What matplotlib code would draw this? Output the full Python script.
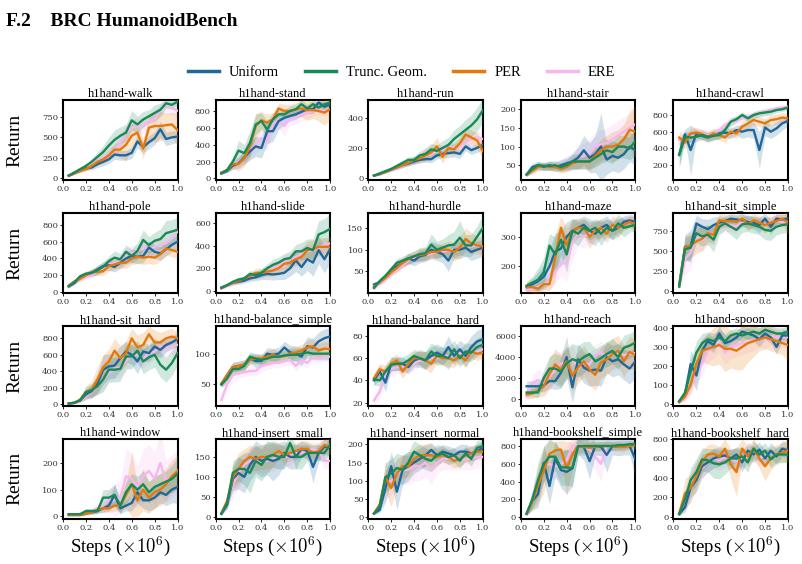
import numpy as np
import matplotlib.pyplot as plt

nan = float('nan')

# training steps (x 1e6)
steps = [0.05, 0.10, 0.15, 0.20, 0.25, 0.30, 0.35, 0.40, 0.45, 0.50,
         0.55, 0.60, 0.65, 0.70, 0.75, 0.80, 0.85, 0.90, 0.95, 1.00]

methods = ['Uniform', 'Trunc. Geom.', 'PER', 'ERE']
colors = ['#1f6899', '#178a55', '#e6780b', '#f7b6f0']
zorders = [3, 5, 4, 2]

# each *_mean / *_std holds rows in the order of `methods`
walk_mean = [
    [30, 60, 90, 120, 130, 170, 200, 230, 290, 280, 280, 310, 450, 380, 440, 490, 600, 480, 500, 510],
    [30, 70, 110, 150, 200, 260, 320, 400, 470, 520, 560, 710, 660, 720, 760, 800, 840, 920, 900, 940],
    [30, 60, 90, 110, 150, 200, 230, 280, 350, 350, 410, 520, 560, 360, 620, 640, 640, 650, 660, 590],
    [30, 60, 100, 130, 160, 210, 250, 300, 340, 430, 560, 620, 640, 640, 700, 720, 850, 880, 860, 830]]
walk_std = [
    [10, 15, 20, 25, 30, 40, 50, 50, 60, 60, 60, 70, 80, 70, 80, 80, 100, 80, 80, 70],
    [10, 15, 20, 30, 40, 60, 80, 100, 120, 110, 100, 120, 100, 100, 80, 100, 80, 60, 50, 40],
    [10, 15, 20, 25, 30, 40, 50, 60, 70, 100, 200, 150, 120, 120, 150, 200, 180, 150, 150, 200],
    [10, 15, 20, 30, 40, 50, 60, 70, 80, 100, 100, 100, 100, 100, 100, 100, 80, 80, 80, 80]]

stand_mean = [
    [60, 90, 150, 180, 250, 320, 380, 360, 560, 560, 680, 720, 740, 760, 790, 820, 820, 900, 850, 880],
    [60, 100, 200, 330, 300, 420, 640, 680, 580, 700, 760, 760, 800, 820, 880, 830, 880, 840, 880, 900],
    [70, 100, 170, 170, 240, 380, 620, 690, 660, 700, 830, 800, 800, 820, 830, 810, 810, 800, 780, 820],
    [60, 90, 150, 200, 250, 330, 400, 480, 440, 640, 700, 620, 720, 720, 760, 780, 800, 820, 800, 820]]
stand_std = [
    [10, 20, 40, 60, 80, 100, 120, 120, 150, 120, 100, 80, 60, 60, 50, 50, 50, 40, 50, 40],
    [10, 30, 60, 120, 100, 150, 120, 100, 100, 80, 80, 60, 60, 60, 50, 50, 50, 60, 50, 40],
    [15, 30, 60, 80, 100, 120, 150, 100, 100, 80, 60, 80, 80, 80, 100, 120, 100, 120, 150, 120],
    [10, 20, 40, 60, 80, 100, 100, 100, 120, 100, 100, 120, 80, 80, 80, 80, 60, 60, 60, 60]]

run_mean = [
    [15, 25, 40, 55, 70, 85, 95, 110, 120, 125, 125, 150, 160, 165, 170, 160, 210, 185, 200, 220],
    [15, 30, 45, 60, 80, 100, 120, 120, 150, 160, 190, 180, 200, 220, 260, 290, 320, 350, 390, 450],
    [15, 25, 40, 55, 70, 85, 100, 120, 130, 150, 170, 210, 140, 200, 190, 230, 290, 270, 250, 180],
    [15, 25, 40, 50, 65, 80, 100, 110, 130, 150, 160, 180, 190, 210, 200, 210, 240, 260, 270, 260]]
run_std = [
    [3, 5, 8, 10, 12, 15, 15, 20, 20, 20, 25, 25, 25, 30, 30, 30, 30, 30, 30, 30],
    [3, 5, 8, 10, 15, 20, 20, 25, 30, 40, 40, 40, 50, 50, 60, 60, 70, 70, 80, 80],
    [3, 5, 8, 10, 12, 15, 20, 25, 30, 40, 50, 60, 40, 40, 40, 40, 50, 50, 50, 60],
    [3, 5, 8, 10, 12, 15, 20, 20, 25, 30, 30, 30, 30, 30, 30, 30, 40, 40, 40, 40]]

stair_mean = [
    [25, 45, 50, 45, 50, 45, 50, 55, 60, 70, 90, 70, 80, 100, 65, 75, 70, 80, 100, 90],
    [25, 40, 50, 48, 48, 50, 45, 50, 60, 60, 60, 60, 70, 80, 90, 85, 100, 100, 95, 115],
    [25, 35, 45, 48, 45, 45, 40, 45, 55, 60, 60, 60, 75, 90, 100, 100, 105, 120, 145, 140],
    [25, 35, 45, 45, 48, 50, 50, 55, 60, 70, 75, 80, 100, 105, 110, 120, 130, 140, 150, 160]]
stair_std = [
    [5, 10, 10, 10, 12, 12, 15, 15, 20, 30, 40, 40, 50, 90, 40, 40, 40, 40, 40, 40],
    [5, 10, 10, 10, 12, 12, 12, 15, 20, 20, 20, 20, 25, 25, 30, 30, 30, 30, 30, 40],
    [5, 8, 10, 10, 10, 10, 12, 12, 15, 20, 20, 25, 25, 30, 30, 40, 40, 40, 50, 70],
    [5, 8, 10, 10, 12, 12, 15, 20, 25, 30, 35, 40, 40, 40, 40, 40, 40, 40, 40, 40]]

crawl_mean = [
    [330, 570, 380, 580, 550, 530, 560, 580, 590, 580, 620, 600, 620, 620, 380, 650, 600, 640, 700, 730],
    [320, 540, 530, 540, 560, 540, 550, 560, 620, 720, 750, 800, 760, 800, 820, 830, 840, 860, 870, 890],
    [530, 470, 580, 590, 570, 540, 580, 560, 530, 600, 580, 660, 700, 740, 720, 700, 740, 750, 770, 760],
    [500, 520, 540, 560, 580, 560, 580, 620, 680, 720, 740, 760, 780, 800, 820, 840, 860, 880, 890, 900]]
crawl_std = [
    [150, 60, 300, 50, 50, 60, 60, 60, 60, 60, 60, 80, 80, 100, 220, 100, 80, 80, 80, 60],
    [150, 60, 60, 60, 50, 50, 50, 50, 50, 50, 40, 40, 40, 40, 40, 40, 40, 30, 30, 30],
    [80, 80, 60, 60, 60, 60, 60, 60, 60, 60, 60, 60, 60, 60, 60, 60, 60, 60, 60, 60],
    [60, 60, 60, 60, 50, 50, 50, 50, 50, 50, 50, 40, 40, 40, 40, 40, 40, 30, 30, 30]]

pole_mean = [
    [70, 110, 180, 210, 230, 270, 310, 320, 300, 350, 400, 430, 420, 430, 530, 480, 460, 510, 560, 600],
    [70, 120, 190, 220, 230, 260, 300, 370, 410, 390, 480, 430, 490, 620, 560, 610, 630, 700, 720, 740],
    [80, 130, 160, 200, 240, 240, 250, 310, 330, 350, 350, 400, 420, 410, 420, 410, 450, 520, 500, 480],
    [60, 110, 160, 180, 200, 250, 280, 330, 350, 360, 440, 470, 480, 550, 500, 540, 560, 580, 640, 720]]
pole_std = [
    [15, 20, 30, 30, 40, 50, 50, 60, 60, 70, 70, 80, 80, 80, 80, 80, 80, 80, 80, 80],
    [15, 20, 30, 30, 40, 50, 60, 60, 80, 70, 80, 80, 100, 120, 100, 100, 120, 150, 140, 150],
    [15, 20, 30, 30, 40, 40, 50, 60, 60, 60, 70, 70, 80, 80, 80, 80, 80, 80, 80, 80],
    [15, 20, 30, 30, 40, 50, 50, 60, 60, 70, 80, 80, 80, 80, 80, 80, 80, 80, 80, 80]]

slide_mean = [
    [30, 50, 70, 80, 90, 110, 120, 140, 150, 145, 150, 160, 200, 270, 210, 280, 250, 360, 280, 370],
    [25, 50, 80, 100, 110, 150, 140, 160, 200, 230, 250, 280, 290, 350, 350, 380, 360, 500, 520, 550],
    [25, 50, 70, 90, 110, 130, 160, 160, 170, 180, 200, 240, 250, 280, 300, 360, 370, 390, 390, 390],
    [20, 40, 60, 75, 90, 110, 130, 150, 170, 200, 220, 260, 280, 300, 330, 350, 360, 380, 410, 420]]
slide_std = [
    [8, 10, 15, 20, 20, 25, 30, 40, 50, 50, 50, 60, 70, 100, 80, 100, 120, 120, 120, 120],
    [8, 10, 15, 20, 20, 30, 30, 40, 40, 50, 50, 50, 60, 60, 80, 80, 100, 120, 120, 130],
    [8, 10, 15, 20, 25, 30, 40, 40, 40, 50, 50, 60, 60, 60, 70, 80, 80, 80, 80, 80],
    [8, 10, 15, 20, 20, 25, 30, 30, 40, 50, 50, 60, 60, 60, 60, 60, 60, 60, 60, 60]]

hurdle_mean = [
    [20, 25, 38, 50, 62, 70, 80, 75, 85, 88, 100, 95, 90, 75, 100, 100, 105, 95, 100, 105],
    [12, 28, 40, 55, 70, 75, 80, 85, 90, 92, 112, 100, 105, 110, 112, 128, 110, 110, 130, 150],
    [15, 25, 35, 48, 58, 70, 78, 85, 88, 90, 95, 95, 100, 100, 95, 105, 125, 115, 110, 108],
    [12, 22, 32, 45, 55, 65, 75, 80, 85, 88, 90, 95, 95, 100, 100, 100, 105, 108, 110, 104]]
hurdle_std = [
    [5, 5, 6, 8, 10, 10, 12, 12, 15, 15, 20, 20, 20, 25, 20, 20, 20, 20, 20, 20],
    [5, 5, 6, 8, 10, 10, 12, 12, 15, 15, 25, 20, 20, 25, 30, 40, 25, 25, 25, 30],
    [5, 5, 6, 8, 10, 10, 12, 12, 15, 15, 15, 15, 15, 20, 20, 25, 25, 25, 20, 20],
    [5, 5, 6, 8, 8, 10, 10, 10, 12, 12, 12, 12, 12, 12, 12, 12, 12, 12, 12, 12]]

maze_mean = [
    [130, 140, 150, 165, 200, 250, 260, 300, 320, 330, 340, 320, 310, 330, 340, 320, 330, 350, 355, 350],
    [135, 145, 155, 180, 270, 240, 290, 240, 320, 310, 330, 320, 330, 310, 330, 320, 345, 330, 335, 340],
    [130, 130, 125, 140, 140, 230, 330, 270, 320, 330, 330, 300, 320, 330, 310, 340, 330, 340, 350, 340],
    [120, 125, 130, 140, 150, 180, 210, 210, 280, 310, 300, 310, 330, 320, 330, 330, 340, 345, 350, 350]]
maze_std = [
    [15, 20, 30, 40, 60, 60, 60, 50, 40, 30, 30, 40, 40, 30, 30, 30, 30, 20, 20, 20],
    [15, 20, 40, 50, 40, 60, 50, 60, 40, 40, 30, 30, 30, 40, 30, 30, 30, 30, 20, 20],
    [15, 20, 20, 20, 20, 80, 40, 60, 40, 30, 30, 40, 30, 30, 30, 30, 30, 20, 20, 20],
    [15, 15, 20, 20, 30, 40, 40, 60, 60, 40, 40, 30, 30, 30, 30, 30, 20, 20, 20, 20]]

sit_simple_mean = [
    [80, 550, 560, 840, 800, 770, 820, 850, 870, 900, 890, 880, 860, 850, 820, 900, 800, 900, 890, 900],
    [60, 520, 540, 720, 680, 700, 640, 800, 840, 800, 760, 830, 840, 820, 800, 760, 750, 800, 820, 830],
    [70, 540, 570, 620, 650, 720, 700, 880, 870, 870, 860, 900, 830, 880, 850, 820, 850, 870, 900, 850],
    [60, 400, 480, 680, 640, 690, 720, 800, 820, 820, 800, 860, 870, 840, 850, 830, 860, 870, 860, 860]]
sit_simple_std = [
    [40, 150, 200, 100, 100, 120, 100, 80, 60, 60, 60, 80, 80, 80, 100, 60, 100, 60, 60, 60],
    [40, 150, 150, 120, 120, 120, 150, 100, 80, 100, 120, 100, 100, 100, 100, 120, 120, 100, 100, 100],
    [40, 150, 150, 150, 150, 100, 120, 80, 80, 80, 80, 60, 80, 80, 80, 100, 80, 80, 60, 150],
    [40, 200, 200, 150, 150, 120, 100, 80, 80, 80, 80, 60, 60, 60, 60, 60, 60, 60, 60, 60]]

sit_hard_mean = [
    [10, 20, 50, 120, 160, 250, 420, 460, 470, 560, 640, 600, 520, 640, 620, 700, 660, 720, 750, 790],
    [10, 20, 50, 150, 170, 220, 300, 420, 420, 430, 580, 580, 650, 520, 570, 600, 480, 420, 500, 620],
    [10, 20, 60, 150, 180, 300, 450, 520, 650, 560, 620, 800, 690, 720, 850, 750, 750, 800, 820, 800],
    [10, 15, 40, 100, 150, 220, 300, 380, 430, 450, 520, 600, 600, 550, 620, 640, 700, 680, 700, 720]]
sit_hard_std = [
    [5, 10, 20, 60, 80, 120, 180, 150, 150, 150, 120, 120, 150, 120, 100, 100, 100, 80, 80, 80],
    [5, 10, 20, 60, 80, 100, 150, 150, 150, 150, 150, 150, 120, 150, 150, 150, 150, 150, 150, 150],
    [5, 10, 30, 80, 100, 150, 150, 150, 150, 150, 150, 120, 150, 150, 100, 150, 120, 100, 100, 80],
    [5, 10, 20, 50, 80, 100, 120, 120, 120, 120, 120, 120, 120, 120, 120, 100, 100, 100, 100, 100]]

balance_simple_mean = [
    [50, 65, 78, 80, 82, 92, 88, 88, 100, 98, 100, 110, 102, 100, 95, 112, 110, 120, 125, 128],
    [50, 60, 75, 75, 80, 95, 92, 90, 92, 95, 95, 97, 98, 98, 100, 102, 100, 100, 100, 100],
    [52, 65, 78, 80, 82, 90, 92, 92, 95, 98, 95, 96, 100, 102, 105, 110, 112, 105, 108, 108],
    [25, 50, 65, 68, 70, 72, 72, 80, 82, 85, 85, 88, 90, 80, 90, 85, 95, 92, 95, 95]]
balance_simple_std = [
    [5, 8, 8, 8, 8, 8, 10, 10, 10, 10, 10, 10, 12, 12, 15, 15, 15, 15, 15, 15],
    [5, 8, 8, 8, 8, 8, 8, 8, 8, 8, 8, 8, 10, 10, 10, 10, 10, 10, 10, 10],
    [5, 8, 8, 8, 8, 8, 8, 8, 10, 10, 10, 10, 10, 10, 10, 12, 12, 12, 12, 12],
    [10, 10, 10, 8, 8, 8, 8, 8, 8, 8, 8, 8, 8, 8, 8, 8, 8, 8, 8, 8]]

balance_hard_mean = [
    [40, 48, 38, 55, 55, 55, 52, 58, 60, 58, 62, 65, 62, 70, 62, 68, 62, 70, 75, 77],
    [41, 40, 48, 54, 55, 55, 58, 62, 60, 58, 66, 62, 62, 60, 68, 60, 66, 65, 70, 72],
    [42, 50, 48, 55, 58, 48, 55, 60, 60, 58, 55, 62, 60, 60, 58, 62, 58, 66, 64, 65],
    [22, 30, 45, 50, 52, 52, 54, 55, 58, 58, 60, 60, 62, 62, 62, 65, 62, 65, 66, 68]]
balance_hard_std = [
    [5, 6, 8, 6, 6, 6, 6, 6, 8, 8, 8, 8, 8, 10, 8, 8, 10, 10, 10, 10],
    [5, 5, 6, 6, 6, 6, 6, 6, 6, 8, 8, 8, 8, 10, 8, 8, 8, 8, 8, 8],
    [5, 5, 6, 6, 6, 6, 6, 6, 6, 8, 8, 6, 6, 8, 6, 6, 6, 6, 6, 6],
    [4, 6, 6, 6, 6, 6, 6, 6, 6, 6, 6, 6, 6, 6, 6, 6, 6, 6, 6, 6]]

reach_mean = [
    [1200, 1200, 1200, 1300, 1700, 1700, 2500, 4000, 1100, 3800, 3000, 2700, 2800, 2700, 4000, 3600, 3800, 3300, 2900, 3600],
    [600, 600, 600, 2000, 2900, 2900, 2600, 3400, 3800, 3600, 4000, 4300, 3600, 3900, 4300, 4600, 4000, 4900, 5100, 5400],
    [400, 500, 800, 1200, 2400, 3300, 2800, 3600, 2200, 3000, 3600, 2800, 2300, 3500, 3800, 4300, 4600, 3600, 4500, 4200],
    [200, 1500, 1800, 1500, 2100, 2800, 3400, 3500, 3900, 2900, 3400, 3300, 4200, 4500, 4000, 4300, 4400, 4200, 4300, 4400]]
reach_std = [
    [500, 500, 500, 600, 700, 800, 1500, 2000, 1500, 1500, 1500, 1500, 1500, 1500, 1500, 1500, 1500, 1500, 1500, 1500],
    [400, 400, 500, 800, 1200, 1500, 1500, 1500, 1500, 1500, 1500, 1200, 1200, 1200, 1200, 1200, 1200, 1200, 1200, 1200],
    [400, 500, 600, 1000, 1500, 1500, 1500, 1500, 1500, 1500, 1500, 1500, 1500, 1500, 1500, 1500, 1500, 1500, 1500, 1500],
    [300, 800, 1000, 1000, 1000, 1200, 1200, 1200, 1200, 1200, 1000, 1000, 1000, 1000, 1000, 1000, 1000, 1000, 1000, 1000]]

spoon_mean = [
    [15, 50, 210, 150, 280, 330, 310, 370, 320, 330, 350, 380, 370, 360, 340, 370, 350, 300, 360, 360],
    [15, 60, 170, 270, 320, 340, 330, 350, 330, 360, 370, 360, 370, 380, 370, 390, 380, 370, 370, 380],
    [10, 40, 100, 210, 280, 290, 300, 310, 290, 290, 280, 300, 320, 330, 340, 350, 340, 330, 320, 310],
    [10, 30, 90, 170, 210, 280, 300, 330, 270, 300, 310, 320, 320, 330, 350, 340, 360, 350, 350, 350]]
spoon_std = [
    [5, 20, 70, 80, 60, 40, 40, 40, 40, 40, 30, 30, 30, 30, 40, 30, 30, 40, 30, 30],
    [5, 20, 60, 60, 50, 40, 40, 40, 40, 30, 30, 30, 30, 30, 30, 30, 30, 30, 30, 30],
    [5, 20, 40, 60, 60, 80, 100, 100, 120, 100, 100, 120, 100, 80, 60, 60, 60, 60, 60, 80],
    [5, 20, 40, 60, 60, 60, 60, 60, 60, 60, 60, 60, 50, 50, 50, 50, 50, 50, 50, 50]]

window_mean = [
    [5, 5, 5, 10, 15, 20, 30, 40, 80, 30, 40, 50, 90, 60, 60, 70, 90, 80, 100, 110],
    [8, 8, 8, 20, 20, 20, 70, 70, 80, 40, 90, 120, 100, 120, 90, 110, 120, 130, 140, 160],
    [5, 5, 5, 10, 15, 25, 30, 30, 40, 40, 80, 120, 60, 100, 70, 90, 100, 120, 150, 170],
    [5, 5, 10, 15, 20, 30, 40, 60, 60, 70, 150, 140, 110, 150, 170, 140, 200, 130, 150, 170]]
window_std = [
    [2, 2, 3, 5, 8, 10, 15, 20, 40, 20, 20, 30, 40, 30, 40, 40, 40, 40, 50, 60],
    [3, 3, 3, 8, 8, 10, 30, 30, 40, 30, 40, 40, 50, 50, 40, 40, 40, 40, 50, 60],
    [2, 2, 3, 5, 8, 10, 15, 15, 20, 20, 50, 120, 60, 80, 60, 60, 60, 60, 60, 60],
    [2, 3, 5, 8, 10, 15, 20, 40, 60, 60, 100, 100, 80, 100, 100, 100, 120, 80, 80, 80]]

insert_small_mean = [
    [8, 30, 95, 110, 100, 130, 150, 140, 145, 140, 145, 160, 150, 150, 170, 165, 125, 160, 175, 175],
    [8, 35, 110, 120, 120, 110, 140, 130, 150, 155, 150, 150, 185, 150, 150, 160, 160, 160, 160, 180],
    [10, 40, 100, 120, 140, 150, 145, 150, 150, 155, 165, 155, 160, 165, 170, 170, 160, 165, 180, 175],
    [8, 30, 80, 110, 130, 140, 145, 140, 140, 145, 150, 150, 150, 160, 160, 165, 170, 165, 140, 140]]
insert_small_std = [
    [3, 10, 30, 40, 40, 40, 40, 40, 40, 50, 40, 30, 30, 30, 20, 20, 40, 20, 20, 20],
    [3, 10, 30, 30, 40, 50, 40, 40, 40, 30, 30, 30, 20, 30, 30, 20, 20, 20, 20, 20],
    [4, 12, 30, 40, 30, 30, 30, 30, 30, 30, 20, 20, 20, 20, 20, 20, 20, 20, 20, 20],
    [3, 10, 30, 40, 30, 30, 30, 30, 30, 30, 30, 30, 20, 20, 20, 20, 20, 20, 20, 20]]

insert_normal_mean = [
    [10, 20, 80, 140, 70, 130, 140, 150, 160, 170, 185, 170, 180, 175, 170, 180, 180, 175, 180, 190],
    [10, 30, 110, 120, 135, 130, 150, 180, 170, 160, 155, 170, 175, 165, 170, 155, 175, 160, 190, 195],
    [10, 35, 110, 80, 120, 140, 140, 160, 170, 170, 170, 165, 170, 165, 155, 160, 170, 175, 180, 180],
    [10, 30, 90, 100, 120, 130, 130, 140, 140, 150, 130, 150, 160, 160, 160, 160, 160, 160, 165, 165]]
insert_normal_std = [
    [3, 8, 40, 40, 50, 40, 40, 30, 30, 30, 20, 20, 20, 20, 20, 20, 20, 20, 20, 20],
    [3, 10, 40, 40, 40, 40, 30, 30, 30, 30, 30, 30, 20, 20, 20, 20, 20, 20, 20, 20],
    [3, 10, 40, 50, 40, 30, 30, 30, 30, 30, 30, 20, 20, 20, 20, 20, 20, 20, 20, 20],
    [3, 10, 40, 40, 40, 40, 40, 40, 40, 40, 40, 30, 30, 30, 30, 30, 30, 30, 30, 30]]

bookshelf_simple_mean = [
    [40, 180, 260, 610, 350, 660, 530, 510, 550, 800, 790, 630, 800, 790, 700, 800, 790, 800, 800, 650],
    [40, 200, 420, 600, 680, 680, 560, 560, 550, 800, 800, 800, 800, 800, 800, 800, 810, 810, 820, 820],
    [40, 180, 360, 520, 710, 750, 760, 550, 700, 800, 790, 780, 790, 800, 800, 800, 790, 790, 800, 810],
    [30, 200, 380, 580, 600, 570, 600, 640, 800, 810, 800, 760, 680, 600, 800, 800, 800, 790, 820, 810]]
bookshelf_simple_std = [
    [20, 100, 150, 200, 200, 200, 200, 250, 200, 100, 150, 200, 100, 100, 200, 100, 100, 100, 100, 200],
    [20, 100, 200, 200, 200, 150, 200, 200, 200, 100, 100, 100, 50, 50, 50, 50, 50, 50, 40, 40],
    [20, 100, 200, 250, 150, 100, 100, 300, 150, 80, 50, 80, 50, 50, 50, 50, 50, 50, 40, 40],
    [20, 100, 150, 150, 150, 150, 150, 150, 100, 80, 80, 150, 150, 200, 80, 50, 50, 50, 40, 40]]

bookshelf_hard_mean = [
    [30, 100, 300, 380, 520, 560, 600, 620, 630, 600, 640, 560, 680, 640, 690, 600, 680, 620, 700, 680],
    [30, 180, 380, 460, 590, 580, 550, 540, 560, 600, 600, 620, 560, 700, 640, 680, 590, 640, 640, 640],
    [40, 240, 300, 420, 560, 640, 650, 620, 700, 540, 460, 700, 620, 700, 600, 520, 600, 640, 660, 680],
    [30, 150, 280, 460, 500, 560, 600, 580, 610, 600, 560, 600, 620, 650, 600, 630, 600, nan, nan, nan]]
bookshelf_hard_std = [
    [15, 50, 100, 120, 120, 100, 100, 100, 80, 80, 80, 100, 80, 80, 80, 80, 80, 80, 80, 80],
    [15, 80, 120, 140, 120, 120, 150, 150, 120, 100, 100, 100, 100, 80, 80, 80, 80, 80, 80, 80],
    [20, 150, 150, 150, 120, 100, 100, 100, 100, 150, 250, 100, 100, 100, 100, 150, 120, 100, 100, 120],
    [15, 80, 100, 100, 100, 100, 100, 100, 100, 100, 100, 100, 100, 80, 80, 80, 80, nan, nan, nan]]

# (title, mean, std, y-limits, y-ticks)
tasks = [
    ('h1hand-walk', walk_mean, walk_std, (-25, 960), [0, 250, 500, 750]),
    ('h1hand-stand', stand_mean, stand_std, (-20, 930), [0, 200, 400, 600, 800]),
    ('h1hand-run', run_mean, run_std, (-15, 520), [0, 200, 400]),
    ('h1hand-stair', stair_mean, stair_std, (10, 225), [50, 100, 150, 200]),
    ('h1hand-crawl', crawl_mean, crawl_std, (20, 980), [200, 400, 600, 800]),
    ('h1hand-pole', pole_mean, pole_std, (-10, 940), [0, 200, 400, 600, 800]),
    ('h1hand-slide', slide_mean, slide_std, (-20, 690), [0, 200, 400, 600]),
    ('h1hand-hurdle', hurdle_mean, hurdle_std, (0, 185), [50, 100, 150]),
    ('h1hand-maze', maze_mean, maze_std, (110, 380), [200, 300]),
    ('h1hand-sit_simple', sit_simple_mean, sit_simple_std, (-20, 970), [0, 250, 500, 750]),
    ('h1hand-sit_hard', sit_hard_mean, sit_hard_std, (-20, 950), [0, 200, 400, 600, 800]),
    ('h1hand-balance_simple', balance_simple_mean, balance_simple_std, (15, 145), [50, 100]),
    ('h1hand-balance_hard', balance_hard_mean, balance_hard_std, (17, 89), [20, 40, 60, 80]),
    ('h1hand-reach', reach_mean, reach_std, (-700, 7000), [0, 2000, 4000, 6000]),
    ('h1hand-spoon', spoon_mean, spoon_std, (-10, 410), [0, 100, 200, 300, 400]),
    ('h1hand-window', window_mean, window_std, (-10, 290), [0, 100, 200]),
    ('h1hand-insert_small', insert_small_mean, insert_small_std, (-5, 195), [0, 50, 100, 150]),
    ('h1hand-insert_normal', insert_normal_mean, insert_normal_std, (-5, 215), [0, 50, 100, 150, 200]),
    ('h1hand-bookshelf_simple', bookshelf_simple_mean, bookshelf_simple_std, (-20, 880), [0, 200, 400, 600, 800]),
    ('h1hand-bookshelf_hard', bookshelf_hard_mean, bookshelf_hard_std, (-20, 800), [0, 200, 400, 600, 800]),
]

plt.rcParams['font.family'] = ['Liberation Serif', 'DejaVu Serif']
plt.rcParams['mathtext.fontset'] = 'cm'
plt.rcParams['axes.unicode_minus'] = False

fig, axes = plt.subplots(4, 5, figsize=(8.02, 5.64), dpi=100)
fig.subplots_adjust(left=0.0786, right=0.9825, top=0.8227, bottom=0.0798,
                    wspace=0.333, hspace=0.41)

x = np.array(steps)
for ax, (title, mean, std, ylim, yticks) in zip(axes.flat, tasks):
    for i in range(4):
        m = np.array(mean[i], dtype=float)
        s = np.array(std[i], dtype=float)
        ax.fill_between(x, m - s, m + s, color=colors[i], alpha=0.2,
                        linewidth=0, zorder=zorders[i])
        ax.plot(x, m, color=colors[i], linewidth=1.7, zorder=zorders[i] + 5)
    ax.set_xlim(0, 1)
    ax.set_ylim(*ylim)
    ax.set_xticks([0.0, 0.2, 0.4, 0.6, 0.8, 1.0])
    ax.set_xticklabels(['0.0', '0.2', '0.4', '0.6', '0.8', '1.0'])
    ax.set_yticks(yticks)
    ax.tick_params(labelsize=6, length=2, width=0.6, pad=1.5,
                   labelcolor='#333333', labelfontfamily='DejaVu Serif')
    ax.set_title(title, fontsize=9, pad=1.5)
    for sp in ax.spines.values():
        sp.set_linewidth(1.5)

# row and column labels
for r in range(4):
    pos = axes[r, 0].get_position()
    fig.text(0.019, (pos.y0 + pos.y1) / 2, 'Return', rotation=90,
             ha='center', va='center', fontsize=14)
for c in range(5):
    pos = axes[3, c].get_position()
    fig.text((pos.x0 + pos.x1) / 2, 0.030, r'Steps ($\times 10^6$)',
             ha='center', va='center', fontsize=13.5)

handles = [plt.Line2D([], [], color=colors[i], linewidth=2.5) for i in range(4)]
fig.legend(handles, methods, loc='center', bbox_to_anchor=(0.501, 0.871),
           ncol=4, frameon=False, fontsize=10.5, handlelength=2.1,
           columnspacing=1.8, handletextpad=0.7)

fig.text(0.008, 0.962, 'F.2    BRC HumanoidBench', fontsize=14,
         fontweight='bold', ha='left', va='center')

fig.savefig('out.png', dpi=100)
